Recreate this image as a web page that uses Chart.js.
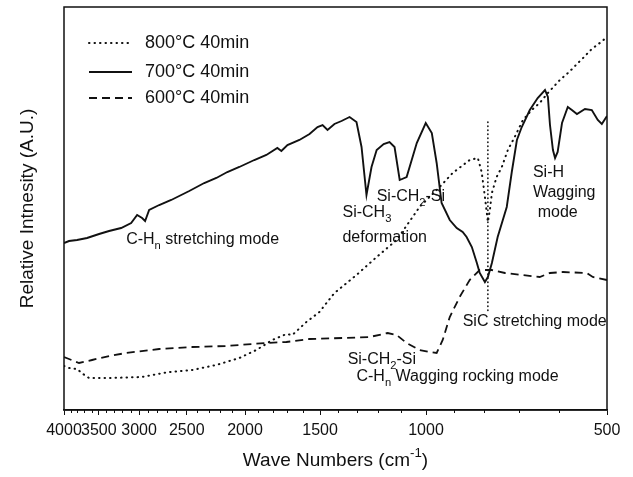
<!DOCTYPE html>
<html>
<head>
<meta charset="utf-8">
<script src="https://cdn.jsdelivr.net/npm/chart.js@4.4.0/dist/chart.umd.min.js"></script>
<style>
  html, body { margin: 0; padding: 0; background: #fff; }
  #wrap { width: 633px; height: 477px; }
</style>
</head>
<body>
<div id="wrap"><canvas id="ftir" width="633" height="477"></canvas></div>
<script>
// wave numbers (cm-1) and relative intensity (a.u.)
const WAVE_700 = [4000, 3924, 3805, 3662, 3497, 3366, 3214, 3093, 3023, 2966, 2932, 2887, 2778, 2653, 2476, 2338,
  2232, 2140, 2044, 1930, 1843, 1767, 1740, 1700, 1624, 1562, 1515, 1486, 1458, 1420, 1382, 1340, 1305, 1280,
  1256, 1232, 1208, 1176, 1150, 1128, 1106, 1077, 1036, 1001, 978, 960, 942, 913, 889, 869, 856, 839, 823, 814,
  798, 789, 777, 760, 734, 720, 706, 693, 672, 652, 634, 627, 622, 615, 610, 604, 594, 581, 572, 561, 544, 530,
  518, 510, 500];
const INT_700 = [167, 169, 170, 172, 176, 179, 182, 187, 195, 192, 189, 200, 205, 210, 219, 227,
  232, 238, 243, 250, 255, 262, 259, 265, 270, 276, 283, 285, 280, 286, 289, 293, 288, 263,
  215, 243, 260, 266, 268, 263, 230, 233, 267, 287, 277, 247, 207, 190, 182, 178, 173, 163, 147, 137,
  128, 133, 147, 173, 203, 238, 270, 283, 300, 312, 320, 313, 285, 260, 252, 258, 287, 303, 300, 296, 301, 300,
  290, 286, 294];

const WAVE_800 = [4000, 3924, 3805, 3719, 3634, 3366, 2966, 2674, 2448, 2232, 2044, 1915, 1801, 1707, 1668, 1581,
  1504, 1420, 1305, 1208, 1119, 1025, 949, 903, 846, 820, 808, 798, 789, 783, 777, 763, 748, 731, 712, 690,
  667, 647, 627, 599, 578, 561, 548, 530, 514, 500];
const INT_800 = [44, 42, 41, 36, 32, 32, 33, 38, 40, 45, 52, 60, 70, 76, 75, 88,
  98, 117, 135, 153, 170, 203, 223, 237, 250, 252, 238, 213, 188, 200, 217, 233, 243, 260, 273, 290,
  300, 307, 317, 330, 338, 346, 352, 361, 367, 373];

const WAVE_600 = [4000, 3924, 3776, 3592, 3366, 3153, 2778, 2448, 2148, 1944, 1843, 1707, 1562, 1377, 1241, 1158,
  1119, 1077, 1025, 986, 960, 938, 913, 879, 846, 814, 777, 739, 693, 647, 622, 592, 540, 528, 500];
const INT_600 = [53, 51, 47, 50, 54, 57, 61, 63, 64, 66, 67, 68, 71, 72, 73, 77,
  75, 67, 60, 58, 57, 70, 93, 113, 130, 140, 140, 137, 135, 133, 137, 138, 137, 133, 130];

// SiC stretching marker
const SIC_WAVE = [789, 789];
const SIC_INT = [288, 97];

const SERIES_LABELS = ['800\u00B0C 40min', '700\u00B0C 40min', '600\u00B0C 40min'];
const TICK_WAVES = [4000, 3500, 3000, 2500, 2000, 1500, 1000, 500];
const MINOR_STEP = 100;

const NOTES = [
  { text: 'C-H_{n} stretching mode', x: 3153, y: 170 },
  { text: 'Si-CH_{3}', x: 1377, y: 197 },
  { text: 'deformation', x: 1377, y: 172 },
  { text: 'Si-CH_{2}-Si', x: 1208, y: 213 },
  { text: 'Si-H', x: 664, y: 237 },
  { text: 'Wagging', x: 664, y: 217 },
  { text: 'mode', x: 652, y: 197 },
  { text: 'SiC stretching mode', x: 869, y: 88 },
  { text: 'Si-CH_{2}-Si', x: 1350, y: 50 },
  { text: 'C-H_{n} Wagging rocking mode', x: 1305, y: 33 }
];

const FONT = '"Liberation Sans", Arial, sans-serif';
const INK = '#111';

function toPoints(xs, ys) {
  return xs.map((x, i) => ({ x: x, y: ys[i] }));
}

// split "C-H_{n}" / "cm^{-1}" into plain, sub and sup pieces
function parseRich(str) {
  const parts = [];
  const re = /([_^])\{([^}]*)\}/g;
  let last = 0, m;
  while ((m = re.exec(str)) !== null) {
    if (m.index > last) parts.push({ t: str.slice(last, m.index) });
    parts.push({ t: m[2], sub: m[1] === '_', sup: m[1] === '^' });
    last = re.lastIndex;
  }
  if (last < str.length) parts.push({ t: str.slice(last) });
  return parts;
}

function richWidth(ctx, parts, size) {
  let w = 0;
  parts.forEach(p => {
    ctx.font = (p.sub || p.sup ? size * 0.7 : size) + 'px ' + FONT;
    w += ctx.measureText(p.t).width;
  });
  return w;
}

function drawRich(ctx, str, x, y, size) {
  const parts = parseRich(str);
  let cx = x;
  ctx.textBaseline = 'middle';
  ctx.textAlign = 'left';
  parts.forEach(p => {
    const small = p.sub || p.sup;
    ctx.font = (small ? size * 0.7 : size) + 'px ' + FONT;
    const dy = p.sub ? size * 0.38 : (p.sup ? -size * 0.38 : 0);
    ctx.fillText(p.t, cx, y + dy);
    cx += ctx.measureText(p.t).width;
  });
}

const datasets = [
  {
    label: SERIES_LABELS[0],
    data: toPoints(WAVE_800, INT_800),
    borderColor: INK,
    borderWidth: 2,
    borderDash: [0.5, 5],
    borderCapStyle: 'round'
  },
  {
    label: SERIES_LABELS[1],
    data: toPoints(WAVE_700, INT_700),
    borderColor: INK,
    borderWidth: 1.9,
    borderDash: []
  },
  {
    label: SERIES_LABELS[2],
    data: toPoints(WAVE_600, INT_600),
    borderColor: INK,
    borderWidth: 1.8,
    borderDash: [8, 5]
  },
  {
    label: 'SiC',
    data: toPoints(SIC_WAVE, SIC_INT),
    borderColor: INK,
    borderWidth: 1.6,
    borderDash: [0.5, 3.5],
    borderCapStyle: 'round'
  }
];

// frame, minor ticks, legend, axis titles, notes
const decorations = {
  id: 'decorations',
  afterDraw(chart) {
    const ctx = chart.ctx;
    const area = chart.chartArea;
    const xs = chart.scales.x;
    const ys = chart.scales.y;
    ctx.save();

    ctx.strokeStyle = INK;
    ctx.lineWidth = 1.5;
    ctx.strokeRect(area.left, area.top, area.right - area.left, area.bottom - area.top);

    ctx.lineWidth = 1;
    ctx.beginPath();
    for (let v = 500 + MINOR_STEP; v < 4000; v += MINOR_STEP) {
      if (v % 500 === 0) continue;
      const px = Math.round(xs.getPixelForValue(v)) + 0.5;
      ctx.moveTo(px, area.bottom);
      ctx.lineTo(px, area.bottom + 3);
    }
    ctx.stroke();

    // legend
    const legendRows = [43, 72, 98];
    [0, 1, 2].forEach((i) => {
      const ds = chart.data.datasets[i];
      const y = legendRows[i];
      ctx.strokeStyle = ds.borderColor;
      ctx.lineWidth = ds.borderWidth;
      ctx.lineCap = ds.borderCapStyle || 'butt';
      ctx.setLineDash(ds.borderDash);
      ctx.beginPath();
      ctx.moveTo(area.left + 25, y);
      ctx.lineTo(area.left + 68, y);
      ctx.stroke();
      ctx.setLineDash([]);
      ctx.fillStyle = INK;
      drawRich(ctx, ds.label, area.left + 81, y, 18);
    });

    // notes on the bands
    ctx.fillStyle = INK;
    NOTES.forEach(n => {
      drawRich(ctx, n.text, xs.getPixelForValue(n.x), ys.getPixelForValue(n.y), 16);
    });

    // axis titles
    const xTitle = 'Wave Numbers (cm^{-1})';
    const tw = richWidth(ctx, parseRich(xTitle), 19);
    drawRich(ctx, xTitle, (area.left + area.right) / 2 - tw / 2, 461, 19);

    const yTitle = 'Relative Intnesity (A.U.)';
    ctx.translate(28, (area.top + area.bottom) / 2);
    ctx.rotate(-Math.PI / 2);
    const yw = richWidth(ctx, parseRich(yTitle), 19);
    drawRich(ctx, yTitle, -yw / 2, 0, 19);

    ctx.restore();
  }
};

new Chart(document.getElementById('ftir').getContext('2d'), {
  type: 'line',
  data: { datasets: datasets },
  options: {
    responsive: false,
    animation: false,
    layout: { padding: { left: 64, right: 26, top: 7, bottom: 0 } },
    elements: {
      point: { radius: 0 },
      line: { tension: 0, fill: false }
    },
    plugins: {
      legend: { display: false },
      tooltip: { enabled: false }
    },
    scales: {
      x: {
        type: 'logarithmic',
        reverse: true,
        min: 500,
        max: 4000,
        afterBuildTicks: (scale) => {
          scale.ticks = TICK_WAVES.map(v => ({ value: v }));
        },
        afterFit: (scale) => {
          scale.height = 67;
        },
        ticks: {
          autoSkip: false,
          maxRotation: 0,
          minRotation: 0,
          padding: 6,
          color: INK,
          font: { family: FONT, size: 16 },
          callback: (value) => String(value)
        },
        grid: {
          drawOnChartArea: false,
          drawTicks: true,
          tickLength: 5,
          tickColor: INK,
          tickWidth: 1
        },
        border: { display: true, color: INK, width: 1.5 }
      },
      y: {
        display: false,
        min: 0,
        max: 403
      }
    }
  },
  plugins: [decorations]
});
</script>
</body>
</html>
